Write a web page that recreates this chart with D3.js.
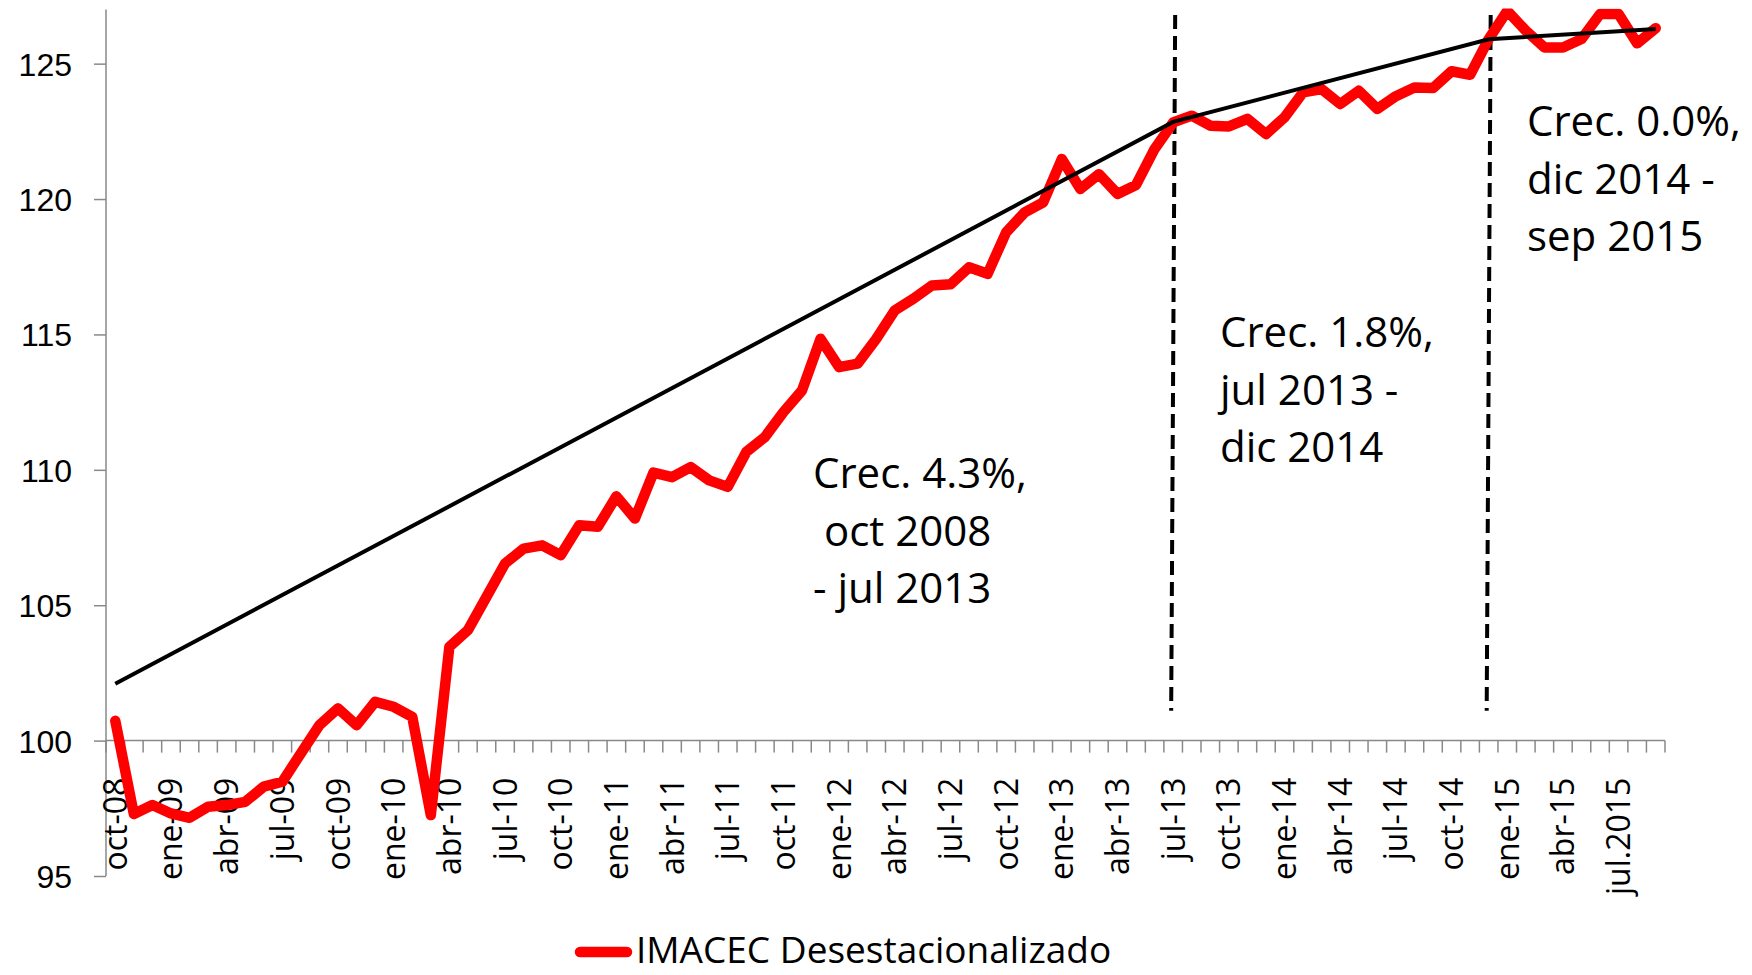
<!DOCTYPE html>
<html>
<head>
<meta charset="utf-8">
<script src="https://cdn.jsdelivr.net/npm/d3@7"></script>
<style>
	html, body { margin: 0; padding: 0; background: #fff; }
	svg { display: block; font-family: "Open Sans", sans-serif; }
	.axis-label { font-size: 32px; fill: #000; }
	.note { font-size: 42px; fill: #000; white-space: pre; }
	.legend-text { font-size: 37px; fill: #000; }
</style>
</head>
<body>
<script>
var categories = [
	'oct-08','nov-08','dic-08',
	'ene-09','feb-09','mar-09','abr-09','may-09','jun-09','jul-09','ago-09','sep-09','oct-09','nov-09','dic-09',
	'ene-10','feb-10','mar-10','abr-10','may-10','jun-10','jul-10','ago-10','sep-10','oct-10','nov-10','dic-10',
	'ene-11','feb-11','mar-11','abr-11','may-11','jun-11','jul-11','ago-11','sep-11','oct-11','nov-11','dic-11',
	'ene-12','feb-12','mar-12','abr-12','may-12','jun-12','jul-12','ago-12','sep-12','oct-12','nov-12','dic-12',
	'ene-13','feb-13','mar-13','abr-13','may-13','jun-13','jul-13','ago-13','sep-13','oct-13','nov-13','dic-13',
	'ene-14','feb-14','mar-14','abr-14','may-14','jun-14','jul-14','ago-14','sep-14','oct-14','nov-14','dic-14',
	'ene-15','feb-15','mar-15','abr-15','may-15','jun-15','jul.2015','ago-15','sep-15'
];

// IMACEC desestacionalizado
var imacec = [
	100.73, 97.29, 97.62,
	97.31, 97.15, 97.56, 97.62, 97.74, 98.30, 98.48, 99.53, 100.57, 101.19, 100.57, 101.43,
	101.25, 100.88, 97.25, 103.46, 104.08, 105.31, 106.54, 107.09, 107.21, 106.85, 107.95, 107.90,
	109.02, 108.20, 109.90, 109.73, 110.10, 109.61, 109.37, 110.66, 111.21, 112.13, 112.93, 114.84,
	113.79, 113.92, 114.84, 115.89, 116.32, 116.81, 116.85, 117.48, 117.24, 118.77, 119.51, 119.88,
	121.48, 120.37, 120.92, 120.19, 120.52, 121.85, 122.83, 123.08, 122.71, 122.68, 122.96, 122.40,
	123.02, 123.94, 124.06, 123.51, 124.00, 123.33, 123.80, 124.12, 124.10, 124.72, 124.59, 125.91,
	126.95, 126.22, 125.60, 125.60, 125.91, 126.83, 126.83, 125.75, 126.31
];

// trend segments between the breaks
var trendCats = ['oct-08', 'jul-13', 'dic-14', 'sep-15'];
var trendValues = [102.1, 122.85, 125.9, 126.28];

var breakCats = ['jul-13', 'dic-14'];
var breakRange = [101.1, 126.8];

var yTicks = [95, 100, 105, 110, 115, 120, 125];
var yDomain = [95, 127];
var labelEvery = 3;

var notes = [
	['Crec. 4.3%,', ' oct 2008', '- jul 2013'],
	['Crec. 1.8%,', 'jul 2013 -', 'dic 2014'],
	['Crec. 0.0%,', 'dic 2014 -', 'sep 2015']
];
var legendName = 'IMACEC Desestacionalizado';

var width = 1752,
		height = 975;
var plot = {left: 106, right: 1665, top: 9.5, bottom: 876};
var axisColor = '#898989';

var svg = d3.select('body').append('svg')
	.attr('width', width)
	.attr('height', height);

var x = d3.scaleBand()
	.domain(categories)
	.range([plot.left, plot.right])
	.padding(0);
var y = d3.scaleLinear()
	.domain(yDomain)
	.range([plot.bottom, plot.top]);

function cx(c) { return x(c) + x.bandwidth() / 2; }

svg.append('defs').append('clipPath')
		.attr('id', 'plot-clip')
	.append('rect')
		.attr('x', plot.left)
		.attr('y', plot.top - 1)
		.attr('width', plot.right - plot.left + 10)
		.attr('height', plot.bottom - plot.top + 1);

// y axis
var yAxis = d3.axisLeft(y)
	.tickValues(yTicks)
	.tickSize(12)
	.tickPadding(22)
	.tickFormat(d3.format('d'));

var gy = svg.append('g')
	.attr('transform', 'translate(' + plot.left + ',0)')
	.call(yAxis);
gy.select('.domain')
	.attr('stroke', axisColor)
	.attr('stroke-width', 1.5)
	.attr('d', 'M0,' + plot.bottom + 'V' + plot.top);
gy.selectAll('.tick line')
	.attr('stroke', axisColor)
	.attr('stroke-width', 1.5);
gy.selectAll('.tick text')
	.attr('class', 'axis-label')
	.attr('font-family', null)
	.attr('font-size', null)
	.attr('dy', '0.36em');

// category axis crossing at 100
var x0 = y(100);
var gx = svg.append('g').attr('class', 'axis-x');
gx.append('line')
	.attr('x1', plot.left).attr('x2', plot.right)
	.attr('y1', x0).attr('y2', x0)
	.attr('stroke', axisColor)
	.attr('stroke-width', 1.5);
gx.selectAll('.tick-mark')
	.data(categories.concat(['end']))
	.enter().append('line')
		.attr('class', 'tick-mark')
		.attr('x1', function(d) { return d === 'end' ? plot.right : x(d); })
		.attr('x2', function(d) { return d === 'end' ? plot.right : x(d); })
		.attr('y1', x0)
		.attr('y2', x0 + 12)
		.attr('stroke', axisColor)
		.attr('stroke-width', 1.5);
gx.selectAll('.axis-label')
	.data(categories.filter(function(d, i) { return i % labelEvery === 0; }))
	.enter().append('text')
		.attr('class', 'axis-label')
		.attr('text-anchor', 'end')
		.attr('dy', '0.36em')
		.attr('transform', function(d) { return 'translate(' + cx(d) + ',' + (x0 + 37) + ') rotate(-90)'; })
		.text(function(d) { return d; });

// break lines
svg.selectAll('.break')
	.data(breakCats)
	.enter().append('line')
		.attr('class', 'break')
		.attr('x1', function(d) { return cx(d) + 2; })
		.attr('x2', function(d) { return cx(d) - 2; })
		.attr('y1', y(breakRange[1]))
		.attr('y2', y(breakRange[0]))
		.attr('stroke', '#000')
		.attr('stroke-width', 4)
		.attr('stroke-dasharray', '14,7');

// series
var series = imacec.map(function(v, i) { return {cat: categories[i], value: v}; });
var line = d3.line()
	.x(function(d) { return cx(d.cat); })
	.y(function(d) { return y(d.value); });

svg.append('path')
	.datum(series)
	.attr('clip-path', 'url(#plot-clip)')
	.attr('fill', 'none')
	.attr('stroke', '#ff0000')
	.attr('stroke-width', 10.5)
	.attr('stroke-linejoin', 'round')
	.attr('stroke-linecap', 'round')
	.attr('d', line);

var trend = trendValues.map(function(v, i) { return {cat: trendCats[i], value: v}; });
svg.append('path')
	.datum(trend)
	.attr('fill', 'none')
	.attr('stroke', '#000')
	.attr('stroke-width', 4)
	.attr('d', line);

// annotations
var notePos = [[813, 488], [1220, 347], [1527, 136]];
notes.forEach(function(lines, k) {
	var t = svg.append('text')
		.attr('class', 'note')
		.attr('x', notePos[k][0])
		.attr('y', notePos[k][1]);
	lines.forEach(function(s, j) {
		t.append('tspan')
			.attr('x', notePos[k][0])
			.attr('y', notePos[k][1] + j * 57.5)
			.text(s);
	});
});

// legend
var lg = svg.append('g').attr('class', 'legend');
lg.append('line')
	.attr('x1', 580).attr('x2', 627)
	.attr('y1', 952).attr('y2', 952)
	.attr('stroke', '#ff0000')
	.attr('stroke-width', 10.5)
	.attr('stroke-linecap', 'round');
lg.append('text')
	.attr('class', 'legend-text')
	.attr('x', 636)
	.attr('y', 963)
	.text(legendName);
</script>
</body>
</html>
